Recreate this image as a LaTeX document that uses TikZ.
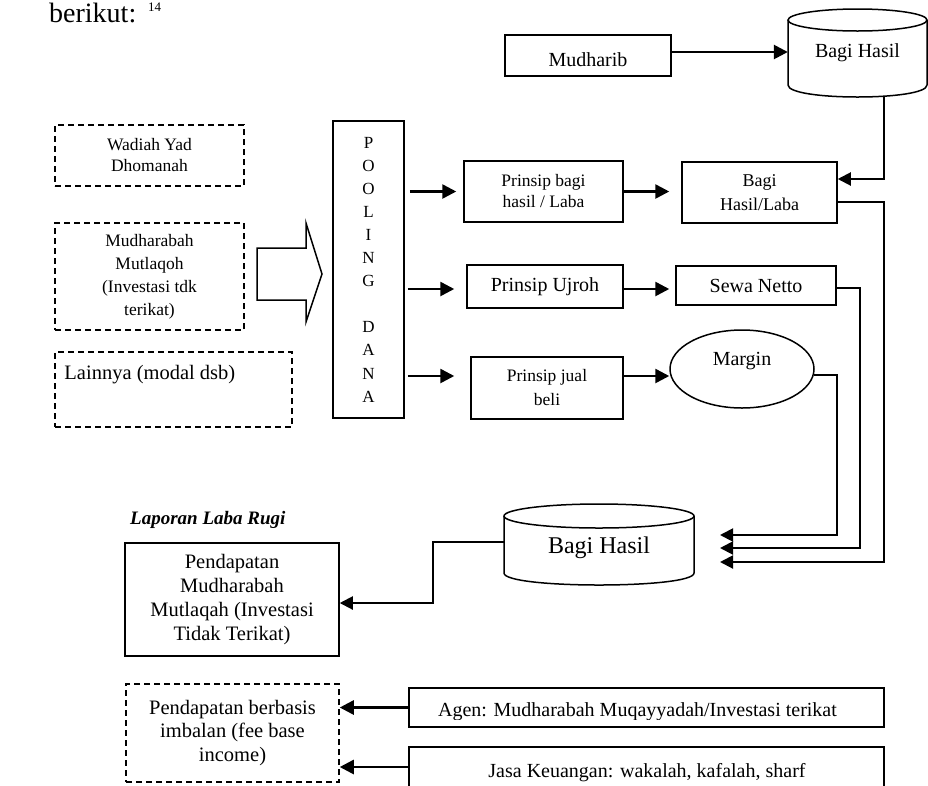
\documentclass[tikz,border=0pt]{standalone}
\usepackage{fontspec}
\setmainfont{Liberation Serif}
\usetikzlibrary{arrows.meta,shapes.geometric,calc}
\tikzset{
  box/.style={draw, line width=1.5pt, rectangle, inner sep=0pt, align=center},
  dbox/.style={box, dash pattern=on 6pt off 4pt},
  arr/.style={line width=2.6pt, -{Triangle[length=14pt,width=14pt]}},
  con/.style={line width=2pt, -{Triangle[length=13pt,width=13pt]}},
  cyl/.style={line width=1.5pt},
  smalltext/.style={font=\fontsize{17.5}{21}\selectfont},
  midtext/.style={font=\fontsize{20}{24}\selectfont},
  txt/.style={inner sep=0pt},
}
\begin{document}
\begin{tikzpicture}[x=1pt,y=-1pt]
\useasboundingbox (0,0) rectangle (928,785);

% heading
\node[txt, font=\fontsize{28}{30}\selectfont, anchor=base west] (ber) at (49,22) {berikut:};
\node[txt, font=\fontsize{13}{14}\selectfont, anchor=base west] (fn) at (148,11) {14};

% top: Mudharib -> Bagi Hasil
\node[box, minimum width=166, minimum height=41,
      label={[txt, midtext, yshift=-4.5pt]center:Mudharib}] (mud) at (588,55.5) {};
\draw[cyl] (788,20) -- (788,85) .. controls (788,101) and (927,101) .. (927,85) -- (927,20);
\draw[cyl] (857.5,20) ellipse [x radius=69.5, y radius=11];
\node[txt, midtext, minimum width=139, minimum height=65] (cylA) at (857.5,52.5) {Bagi Hasil};
\draw[arr] ([yshift=3.5pt]mud.east) -- ([yshift=3.5pt]mud.east -| cylA.west);

% left sources
\node[dbox, smalltext, minimum width=189, minimum height=61] (wad) at (149.5,155.5) {Wadiah Yad\\Dhomanah};
\node[dbox, font=\fontsize{17.5}{23}\selectfont, minimum width=189, minimum height=107] (mm) at (149.5,276.5)
  {Mudharabah\\Mutlaqoh\\(Investasi tdk\\terikat)};
\node[dbox, minimum width=237, minimum height=75,
      label={[txt, font=\fontsize{20.5}{24}\selectfont, anchor=west, xshift=10pt, yshift=14.5pt]west:Lainnya (modal dsb)}] (lain) at (173.5,389.5) {};

% hollow arrow
\draw[line width=1.5pt] (257,248) -- (306,248) -- (306,223) -- (322,274) -- (306,322) -- (306,300) -- (257,300) -- cycle;

% pooling dana
\node[box, font=\fontsize{17}{23.1}\selectfont, minimum width=71, minimum height=297] (pool) at (368.5,269.5)
  {P\\O\\O\\L\\I\\N\\G\\[23.1pt]D\\A\\N\\A};

% principles
\node[box, smalltext, minimum width=159, minimum height=61] (pbh) at (543.5,191.5) {Prinsip bagi\\hasil / Laba};
\node[box, font=\fontsize{18}{24}\selectfont, minimum width=155, minimum height=61] (bhl) at (759.5,192.5) {Bagi\\Hasil/Laba};
\node[box, midtext, minimum width=156, minimum height=43] (ujroh) at (545,286.5) {Prinsip Ujroh};
\node[box, midtext, minimum width=160, minimum height=39] (sewa) at (756,285.5) {Sewa Netto};
\node[box, font=\fontsize{17.5}{24}\selectfont, minimum width=152, minimum height=62] (jb) at (547,388) {Prinsip jual\\beli};
\node[draw, line width=1.5pt, ellipse, inner sep=0pt, minimum width=144, minimum height=78,
      label={[txt, midtext, yshift=8pt]center:Margin}] (margin) at (742,369) {};

% arrows from pooling
\draw[arr, shorten <=5pt, shorten >=7pt] (pool.east |- pbh.west) -- (pbh.west);
\draw[arr, shorten <=3pt, shorten >=12pt] ([yshift=-2.5pt]ujroh.west -| pool.east) -- ([yshift=-2.5pt]ujroh.west);
\draw[arr, shorten <=3pt, shorten >=16pt] ([yshift=12pt]jb.west -| pool.east) -- ([yshift=12pt]jb.west);

\draw[arr, shorten >=12pt] (pbh.east) -- (pbh.east -| bhl.west);
\draw[arr, shorten >=6pt] ([yshift=-2.5pt]ujroh.east) -- ([yshift=-2.5pt]ujroh.east -| sewa.west);
\draw[arr] ([yshift=12pt]jb.east) -- ([yshift=12pt]jb.east -| margin.west);

% top cylinder down to Bagi Hasil/Laba
\coordinate (cAout) at (884,96);
\draw[con] (cAout) |- ([yshift=13.5pt]bhl.east);

% right-side collectors
\coordinate (t1) at (720,535);
\coordinate (t2) at (720,548);
\coordinate (t3) at (720,562);
\draw[con] ([yshift=-9.5pt]bhl.east) -- ++(46,0) |- (t3);
\draw[con] ([yshift=-2.5pt]sewa.east) -- ++(23,0) |- (t2);
\draw[con] (margin.-5) -- ++(23,0) |- (t1);

% bottom cylinder
\draw[cyl] (504,516) -- (504,573) .. controls (504,589) and (694,589) .. (694,573) -- (694,516);
\draw[cyl] (599,516) ellipse [x radius=95, y radius=12];
\node[txt, font=\fontsize{24}{28}\selectfont, minimum width=190, minimum height=50] (cylB) at (599,548) {Bagi Hasil};

% laporan laba rugi
\node[txt, font=\bfseries\itshape\fontsize{19}{22}\selectfont, anchor=base west] (lap) at (130,524) {Laporan Laba Rugi};

\node[box, font=\fontsize{20.5}{24}\selectfont, minimum width=214, minimum height=113] (pmm) at (232,599.5)
  {Pendapatan\\Mudharabah\\Mutlaqah (Investasi\\Tidak Terikat)};
\draw[con] ([yshift=6pt]cylB.west) -- ++(-71,0) |- ([yshift=-3.5pt]pmm.east);

% fee based income
\node[dbox, font=\fontsize{20.5}{23.5}\selectfont, minimum width=213, minimum height=98] (fee) at (232.5,733)
  {Pendapatan berbasis\\imbalan (fee base\\income)};
\node[box, minimum width=475, minimum height=39] (agen) at (646.5,707.5) {};
\begin{scope}
  \clip (409,688) rectangle (884,719);
  \node[txt, midtext, anchor=base] (agentxt) at (637.5,716) {Agen: Mudharabah Muqayyadah/Investasi terikat};
\end{scope}
\node[box, minimum width=475, minimum height=40] (jasa) at (646.5,767) {};
\node[txt, midtext, anchor=base] (jasatxt) at (647,777) {Jasa Keuangan: wakalah, kafalah, sharf};
\draw[arr] (agen.west) -- (agen.west -| fee.east);
\draw[arr] (jasa.west) -- (jasa.west -| fee.east);
\end{tikzpicture}
\end{document}
